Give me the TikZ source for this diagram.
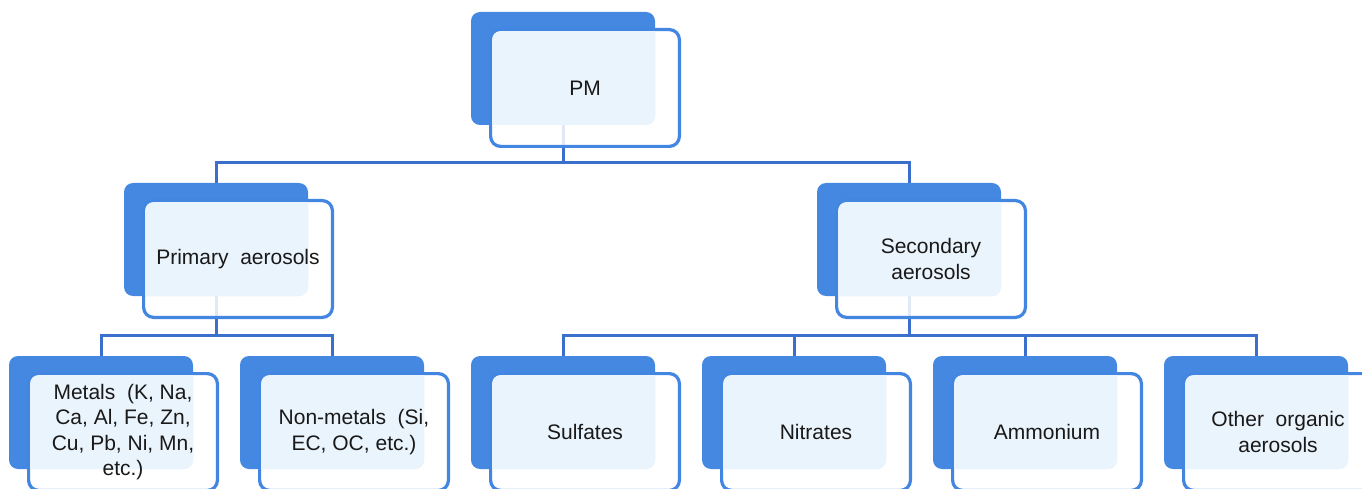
\documentclass[tikz,border=0pt]{standalone}
\usepackage{fontspec}
\setmainfont{Liberation Sans}
\definecolor{backblue}{RGB}{68,136,226}
\definecolor{edgeblue}{RGB}{66,134,225}
\definecolor{linkblue}{RGB}{58,112,204}
\definecolor{paleblue}{RGB}{234,244,252}
\definecolor{ink}{RGB}{25,25,25}
\pgfdeclarelayer{bg}
\pgfsetlayers{bg,main}
\tikzset{
 backbox/.style={fill=backblue, rounded corners=9pt, minimum width=184pt, minimum height=113pt, inner sep=0pt, outer sep=0pt},
 frontbox/.style={draw=edgeblue, line width=3.2pt, fill=white, fill opacity=0.85, draw opacity=1, rounded corners=10pt, minimum width=188.8pt, minimum height=116.8pt, inner sep=0pt, outer sep=0pt},
 boxtext/.style={text=ink, font=\fontsize{21}{25.5}\selectfont, align=center, inner sep=0pt},
 link/.style={draw=linkblue, line width=3pt},
}
\newcommand\orgitem[4]{%
  \node[backbox] (#1b) at (#2+92,#3+56.5) {};
  \node[frontbox] (#1) at (#2+114,#3+76) {};
  \begin{scope}
    \clip[rounded corners=9pt] (#1b.south west) rectangle (#1b.north east);
    \fill[paleblue, rounded corners=8pt] ([shift={(1.6pt,-1.6pt)}]#1.north west) rectangle ([shift={(-1.6pt,1.6pt)}]#1.south east);
  \end{scope}
  \node[boxtext] (#1t) at (#1.center) {#4};
}
\begin{document}
\begin{tikzpicture}[x=1pt,y=-1pt]
\useasboundingbox (0,0) rectangle (1362,489);
\clip (0,0) rectangle (1362,489);
\orgitem{pm}{471}{12}{PM}
\orgitem{pri}{124}{183}{Primary\ \ aerosols}
\orgitem{sec}{817}{183}{Secondary\\aerosols}
\orgitem{met}{9}{356}{Metals\ \ (K,\ Na,\\Ca,\ Al,\ Fe,\ Zn,\\Cu,\ Pb,\ Ni,\ Mn,\\etc.)}
\orgitem{non}{240}{356}{Non-metals\ \ (Si,\\EC,\ OC,\ etc.)}
\orgitem{sul}{471}{356}{Sulfates}
\orgitem{nit}{702}{356}{Nitrates}
\orgitem{amm}{933}{356}{Ammonium}
\orgitem{oth}{1164}{356}{Other\ \ organic\\aerosols}
\coordinate (bus1) at (0,163);
\coordinate (bus2) at (0,335);
\begin{pgfonlayer}{bg}
\draw[link] (pmb.south) -- (pmb.south |- bus1) -| (prib.north);
\draw[link] (pmb.south |- bus1) -| (secb.north);
\draw[link] (prib.south) -- (prib.south |- bus2) -| (metb.north);
\draw[link] (prib.south |- bus2) -| (nonb.north);
\draw[link] (secb.south) -- (secb.south |- bus2) -| (sulb.north);
\draw[link] (secb.south |- bus2) -| (nitb.north);
\draw[link] (secb.south |- bus2) -| (ammb.north);
\draw[link] (secb.south |- bus2) -| (othb.north);
\end{pgfonlayer}
\end{tikzpicture}
\end{document}
